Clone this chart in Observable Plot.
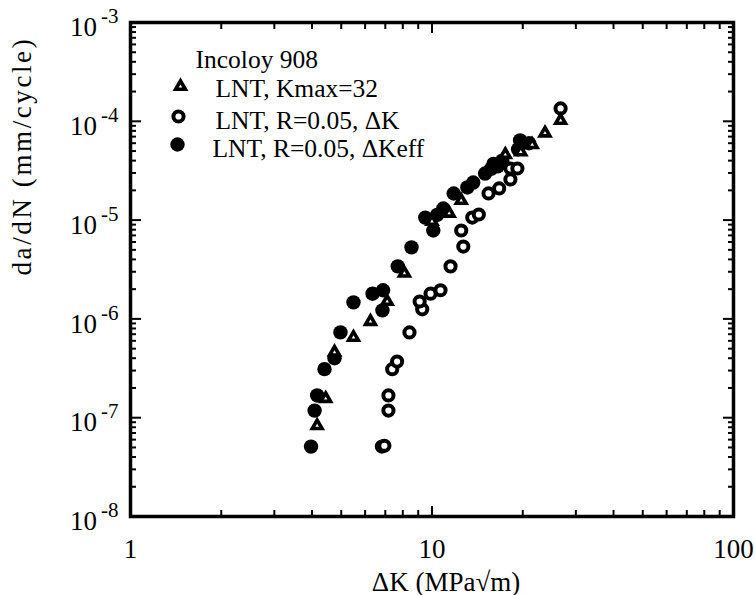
<!DOCTYPE html>
<html><head><meta charset="utf-8">
<script src="https://cdn.jsdelivr.net/npm/d3@7"></script>
<script src="https://cdn.jsdelivr.net/npm/@observablehq/plot@0.6"></script>
<style>body{margin:0;background:#fff}</style>
</head><body><div id="chart"></div>
<script>
// LNT, Kmax=32 (open triangles)
const kmaxX = [4.16, 4.44, 4.75, 5.49, 6.25, 7.1, 8.1, 10.0, 11.4, 12.5, 17.5, 19.7, 21.5, 23.7, 26.7];
const kmaxY = [8.3e-8, 1.56e-7, 4.6e-7, 6.5e-7, 9.4e-7, 1.5e-6, 2.9e-6, 9.7e-6, 1.17e-5, 1.58e-5, 4.6e-5, 4.9e-5, 5.8e-5, 7.6e-5, 1.02e-4];
// LNT, R=0.05, ΔK (open circles)
const rKX = [6.82, 6.95, 7.17, 7.17, 7.38, 7.66, 8.42, 9.28, 9.1, 9.89, 10.67, 11.52, 12.7, 12.5, 13.6, 14.3, 15.4, 16.7, 18.2, 18.2, 19.2, 26.7];
const rKY = [5.1e-8, 5.2e-8, 1.18e-7, 1.68e-7, 3.1e-7, 3.7e-7, 7.3e-7, 1.25e-6, 1.5e-6, 1.8e-6, 1.95e-6, 3.4e-6, 5.4e-6, 7.85e-6, 1.06e-5, 1.14e-5, 1.86e-5, 2.09e-5, 2.58e-5, 3.33e-5, 3.33e-5, 1.35e-4];
// LNT, R=0.05, ΔKeff (filled circles)
const rKeffX = [3.97, 4.08, 4.16, 4.40, 4.75, 4.97, 5.49, 6.35, 6.88, 6.85, 7.7, 8.55, 9.5, 10.1, 10.4, 10.9, 11.8, 13.1, 13.7, 15.0, 15.7, 16.0, 16.5, 17.1, 19.3, 19.6, 21.0];
const rKeffY = [5.1e-8, 1.18e-7, 1.68e-7, 3.1e-7, 4.0e-7, 7.3e-7, 1.47e-6, 1.8e-6, 1.95e-6, 1.22e-6, 3.4e-6, 5.3e-6, 1.06e-5, 7.85e-6, 1.13e-5, 1.31e-5, 1.86e-5, 2.14e-5, 2.4e-5, 2.96e-5, 3.3e-5, 3.7e-5, 3.5e-5, 4.0e-5, 5.2e-5, 6.4e-5, 6.0e-5];

const legendTitle = "Incoloy 908";
const seriesLabels = ["LNT, Kmax=32", "LNT, R=0.05, ΔK", "LNT, R=0.05, ΔKeff"];
const xTitle = "ΔK (MPa√m)";
const yTitle = "da/dN (mm/cycle)";
const xTicks = [1, 10, 100];
const xTickLabels = ["1", "10", "100"];
const yTicks = [1e-8, 1e-7, 1e-6, 1e-5, 1e-4, 1e-3];
const yTickLabels = ["10^-8", "10^-7", "10^-6", "10^-5", "10^-4", "10^-3"];
const xMinor = [2,3,4,5,6,7,8,9,20,30,40,50,60,70,80,90];
const yMinor = [1e-8,1e-7,1e-6,1e-5,1e-4].flatMap(b => [2,3,4,5,6,7,8,9].map(m => m*b));

const font = "Liberation Serif";
const tri = kmaxX.map((x, i) => ({x, y: kmaxY[i]}));
const openC = rKX.map((x, i) => ({x, y: rKY[i]}));
const fillC = rKeffX.map((x, i) => ({x, y: rKeffY[i]}));

const triStyle = {symbol: "triangle", r: 3.6, stroke: "black", strokeWidth: 3.6, fill: "white"};
const openStyle = {symbol: "circle", r: 5.1, stroke: "black", strokeWidth: 4, fill: "white"};
const fillStyle = {symbol: "circle", r: 7.2, fill: "black", stroke: "none"};

const tickOpts = (size) => ({tickFormat: () => "", label: null, strokeWidth: 2, tickSize: size});
const legText = {frameAnchor: "top-left", textAnchor: "start", lineAnchor: "middle", fontSize: 25.5, fontFamily: font};

const chart = Plot.plot({
  width: 755, height: 595,
  marginLeft: 130, marginRight: 22, marginTop: 22, marginBottom: 79,
  style: {fontFamily: font, background: "#fff", color: "black"},
  x: {type: "log", domain: [1, 100]},
  y: {type: "log", domain: [1e-8, 1e-3]},
  marks: [
    // inward ticks on all four sides
    Plot.axisX(xMinor, {anchor: "bottom", ...tickOpts(6), insetBottom: 6}),
    Plot.axisX(xTicks, {anchor: "bottom", ...tickOpts(10), insetBottom: 10}),
    Plot.axisX(xMinor, {anchor: "top", ...tickOpts(6), insetTop: 6}),
    Plot.axisX(xTicks, {anchor: "top", ...tickOpts(10), insetTop: 10}),
    Plot.axisY(yMinor, {anchor: "left", ...tickOpts(6), insetLeft: 6}),
    Plot.axisY(yTicks, {anchor: "left", ...tickOpts(11), insetLeft: 11}),
    Plot.axisY(yMinor, {anchor: "right", ...tickOpts(6), insetRight: 6}),
    Plot.axisY(yTicks, {anchor: "right", ...tickOpts(11), insetRight: 11}),
    // tick labels
    Plot.axisX(xTicks, {anchor: "bottom", tickSize: 0, tickPadding: 22, fontSize: 27, label: null, fontFamily: font,
      tickFormat: (d) => xTickLabels[xTicks.indexOf(d)]}),
    Plot.axisY(yTicks, {anchor: "left", tickSize: 0, tickPadding: 12, fontSize: 27, dy: 5, label: null, fontFamily: font,
      tickFormat: (d) => yTickLabels[yTicks.indexOf(d)]}),
    Plot.frame({stroke: "black", strokeWidth: 3.5}),
    // data
    Plot.dot(fillC, {x: "x", y: "y", ...fillStyle}),
    Plot.dot(openC, {x: "x", y: "y", ...openStyle}),
    Plot.dot(tri, {x: "x", y: "y", ...triStyle}),
    // legend
    Plot.text([legendTitle], {...legText, dx: 65, dy: 37}),
    Plot.dot([0], {frameAnchor: "top-left", dx: 50, dy: 64, ...triStyle}),
    Plot.text([seriesLabels[0]], {...legText, dx: 85, dy: 66}),
    Plot.dot([0], {frameAnchor: "top-left", dx: 48, dy: 94, ...openStyle}),
    Plot.text([seriesLabels[1]], {...legText, dx: 85, dy: 98}),
    Plot.dot([0], {frameAnchor: "top-left", dx: 47, dy: 122, ...fillStyle}),
    Plot.text([seriesLabels[2]], {...legText, dx: 82, dy: 126}),
    // axis titles
    Plot.text([xTitle], {frameAnchor: "bottom", dx: 14, dy: 74, lineAnchor: "bottom", fontSize: 27, fontFamily: font}),
    Plot.text([yTitle], {frameAnchor: "left", dx: -108, dy: 6, rotate: -90, lineAnchor: "middle", fontSize: 27, fontFamily: font})
  ]
});

// superscript exponents on y tick labels
d3.select(chart).selectAll('g[aria-label="y-axis tick label"] text').each(function () {
  const t = this.textContent;
  if (!t.includes("^")) return;
  const [base, exp] = t.split("^");
  this.textContent = "";
  const s = d3.select(this);
  s.append("tspan").text(base);
  s.append("tspan").attr("dx", "4").attr("dy", "-13").attr("font-size", "21px").text(exp);
});
// wider letter spacing on the y title, as in the reference
d3.select(chart).selectAll("text").filter(function () { return this.textContent === yTitle; })
  .attr("letter-spacing", "2.6px");

document.getElementById("chart").append(chart);
</script>
</body></html>
